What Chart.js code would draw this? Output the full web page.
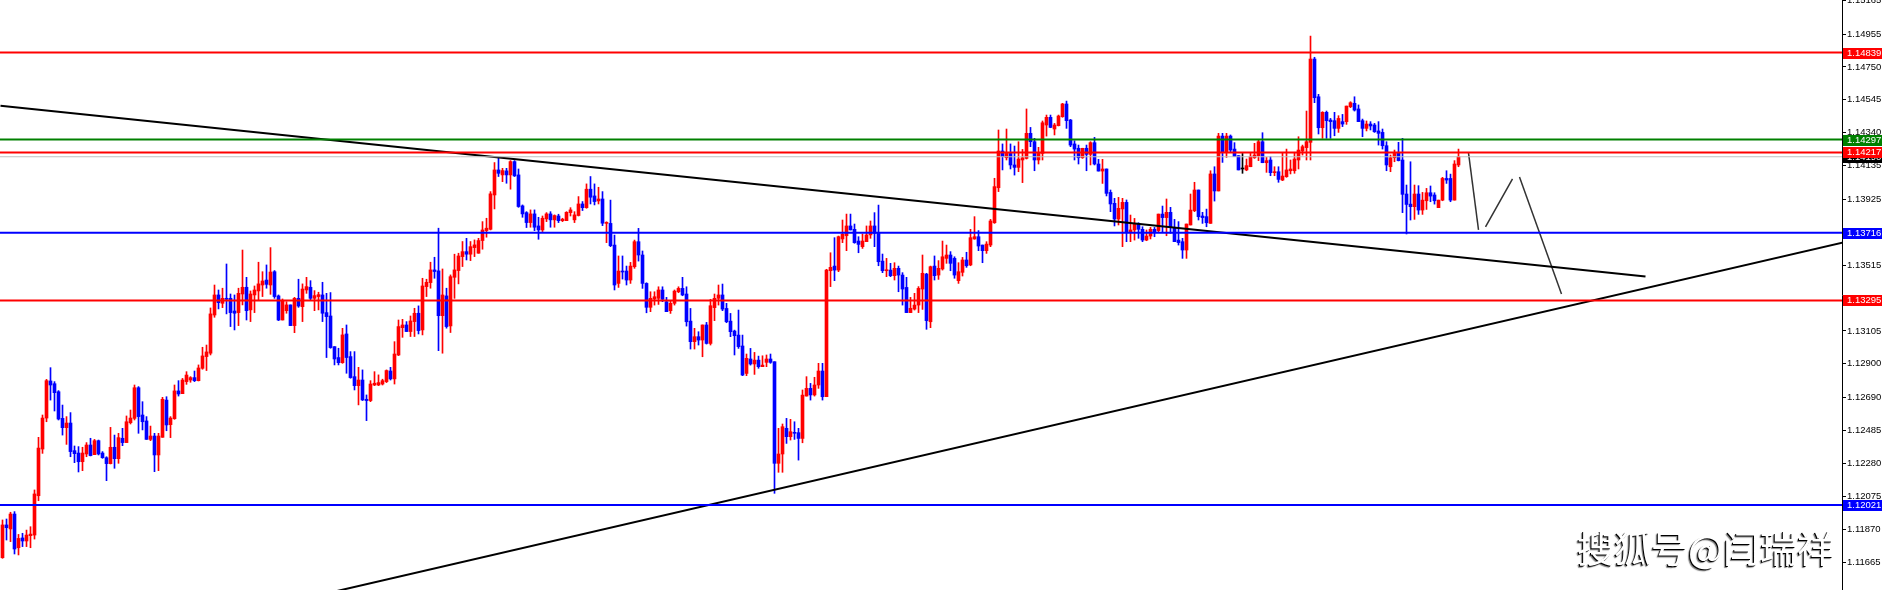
<!DOCTYPE html>
<html>
<head>
<meta charset="utf-8">
<script src="https://cdn.jsdelivr.net/npm/chart.js@4.4.1/dist/chart.umd.min.js"></script>
<style>
  html, body { margin: 0; padding: 0; background: #fff; }
  #wrap { position: relative; width: 1883px; height: 590px; overflow: hidden; }
  #mark {
    position: absolute; left: 1577px; top: 526px;
    font-family: "Noto Sans CJK SC", sans-serif; font-size: 37px; line-height: 42px;
    color: #fff; text-shadow: -1px 1px 0 #000, -2px 2px 1px rgba(0,0,0,0.5);
    white-space: nowrap;
  }
</style>
</head>
<body>
<div id="wrap">
  <canvas id="myChart" width="1883" height="590"></canvas>
  <div id="mark">搜狐号@闫瑞祥</div>
</div>
<script>
// EURUSD style candles (one candle every 4px)
const opens = [
  1.11692,1.11896,1.11871,1.11964,1.11754,1.11815,1.11796,1.11829,1.11833,1.12078,
  1.12369,1.12562,1.12793,1.12776,1.12726,1.12560,1.12502,1.12531,1.12359,1.12344,
  1.12290,1.12338,1.12394,1.12334,1.12421,1.12344,1.12315,1.12278,1.12380,1.12309,
  1.12436,1.12409,1.12533,1.12560,1.12751,1.12581,1.12544,1.12429,1.12450,1.12332,
  1.12442,1.12674,1.12521,1.12558,1.12731,1.12714,1.12789,1.12799,1.12814,1.12795,
  1.12872,1.12945,1.12966,1.13204,1.13329,1.13277,1.13308,1.13308,1.13229,1.13219,
  1.13335,1.13377,1.13236,1.13329,1.13354,1.13391,1.13422,1.13391,1.13474,1.13323,
  1.13173,1.13231,1.13267,1.13138,1.13308,1.13256,1.13360,1.13377,1.13308,1.13319,
  1.13329,1.13219,1.13198,1.13007,1.12939,1.12907,1.13086,1.12945,1.12820,1.12764,
  1.12799,1.12679,1.12671,1.12768,1.12768,1.12774,1.12789,1.12855,1.12806,1.12955,
  1.13125,1.13142,1.13101,1.13163,1.13215,1.13111,1.13381,1.13406,1.13485,1.13479,
  1.13200,1.13323,1.13136,1.13439,1.13481,1.13568,1.13599,1.13583,1.13624,1.13589,
  1.13668,1.13730,1.13738,1.13952,1.14108,1.14077,1.14102,1.14077,1.14160,1.14077,
  1.13884,1.13842,1.13780,1.13834,1.13759,1.13734,1.13803,1.13834,1.13797,1.13821,
  1.13792,1.13792,1.13842,1.13797,1.13824,1.13896,1.13873,1.13988,1.13946,1.13915,
  1.13927,1.13775,1.13775,1.13640,1.13401,1.13478,1.13478,1.13422,1.13505,1.13661,
  1.13578,1.13401,1.13252,1.13304,1.13308,1.13360,1.13287,1.13231,1.13277,1.13349,
  1.13370,1.13335,1.13166,1.13038,1.13069,1.13048,1.13142,1.13027,1.13250,1.13308,
  1.13329,1.13245,1.13166,1.13104,1.13079,1.13011,1.12840,1.12930,1.12899,1.12923,
  1.12882,1.12909,1.12930,1.12913,1.12280,1.12338,1.12498,1.12446,1.12471,1.12471,
  1.12435,1.12699,1.12747,1.12706,1.12768,1.12855,1.12695,1.13480,1.13509,1.13484,
  1.13678,1.13698,1.13759,1.13738,1.13665,1.13630,1.13661,1.13703,1.13759,1.13717,
  1.13540,1.13480,1.13484,1.13449,1.13495,1.13453,1.13376,1.13219,1.13241,1.13266,
  1.13366,1.13459,1.13162,1.13509,1.13453,1.13491,1.13557,1.13578,1.13557,1.13418,
  1.13470,1.13547,1.13516,1.13678,1.13692,1.13640,1.13605,1.13640,1.13779,1.13997,
  1.14226,1.14184,1.14211,1.14139,1.14124,1.14170,1.14180,1.14336,1.14284,1.14170,
  1.14211,1.14388,1.14436,1.14363,1.14384,1.14440,1.14519,1.14419,1.14270,1.14243,
  1.14184,1.14243,1.14205,1.14278,1.14145,1.14101,1.14114,1.13968,1.13900,1.13802,
  1.13865,1.13906,1.13723,1.13734,1.13771,1.13738,1.13671,1.13696,1.13738,1.13730,
  1.13833,1.13811,1.13844,1.13750,1.13671,1.13661,1.13609,1.13765,1.13854,1.13983,
  1.13821,1.13817,1.13775,1.14083,1.13977,1.14319,1.14222,1.14319,1.14238,1.14197,
  1.14114,1.14108,1.14128,1.14184,1.14197,1.14284,1.14153,1.14170,1.14091,1.14097,
  1.14045,1.14066,1.14103,1.14103,1.14170,1.14226,1.14247,1.14280,1.14799,1.14564,
  1.14371,1.14467,1.14419,1.14415,1.14367,1.14409,1.14409,1.14502,1.14523,1.14488,
  1.14415,1.14367,1.14394,1.14388,1.14351,1.14342,1.14259,1.14128,1.14184,1.14218,
  1.14170,1.13958,1.13895,1.13879,1.13958,1.13858,1.13916,1.13966,1.13952,1.13873,
  1.13920,1.14055,1.14055,1.13920,1.14139
];
const highs = [
  1.11927,1.11933,1.11975,1.11979,1.11837,1.11844,1.11864,1.11885,1.12114,1.12442,
  1.12581,1.12803,1.12876,1.12789,1.12733,1.12643,1.12571,1.12596,1.12388,1.12384,
  1.12380,1.12409,1.12436,1.12429,1.12425,1.12353,1.12321,1.12504,1.12456,1.12467,
  1.12498,1.12575,1.12612,1.12768,1.12758,1.12664,1.12571,1.12512,1.12467,1.12467,
  1.12691,1.12695,1.12571,1.12768,1.12795,1.12809,1.12851,1.12820,1.12855,1.12893,
  1.13003,1.13017,1.13248,1.13391,1.13360,1.13371,1.13522,1.13335,1.13329,1.13371,
  1.13609,1.13439,1.13354,1.13385,1.13533,1.13474,1.13516,1.13624,1.13481,1.13329,
  1.13304,1.13287,1.13267,1.13314,1.13427,1.13398,1.13439,1.13418,1.13356,1.13346,
  1.13408,1.13339,1.13344,1.13007,1.12997,1.13121,1.13142,1.12976,1.12976,1.12878,
  1.12862,1.12706,1.12795,1.12851,1.12831,1.12804,1.12862,1.12878,1.13038,1.13173,
  1.13177,1.13163,1.13198,1.13246,1.13261,1.13433,1.13427,1.13533,1.13564,1.13745,
  1.13491,1.13371,1.13454,1.13583,1.13589,1.13662,1.13682,1.13662,1.13672,1.13682,
  1.13786,1.13807,1.13973,1.14154,1.14181,1.14118,1.14118,1.14166,1.14166,1.14114,
  1.13890,1.13848,1.13859,1.13859,1.13813,1.13821,1.13842,1.13848,1.13828,1.13832,
  1.13807,1.13848,1.13873,1.13848,1.13942,1.13911,1.14021,1.14067,1.14021,1.14000,
  1.13973,1.13785,1.13920,1.13702,1.13572,1.13572,1.13509,1.13532,1.13671,1.13744,
  1.13603,1.13405,1.13349,1.13349,1.13380,1.13380,1.13314,1.13293,1.13360,1.13380,
  1.13439,1.13380,1.13245,1.13121,1.13100,1.13142,1.13158,1.13302,1.13335,1.13391,
  1.13397,1.13277,1.13214,1.13110,1.13235,1.13079,1.12961,1.12996,1.12971,1.12948,
  1.12950,1.12955,1.12961,1.12913,1.12498,1.12525,1.12560,1.12554,1.12539,1.12498,
  1.12737,1.12820,1.12778,1.12816,1.12903,1.12903,1.13489,1.13592,1.13686,1.13696,
  1.13796,1.13833,1.13833,1.13771,1.13692,1.13709,1.13759,1.13790,1.13842,1.13889,
  1.13584,1.13557,1.13526,1.13530,1.13509,1.13468,1.13439,1.13314,1.13339,1.13381,
  1.13578,1.13464,1.13509,1.13572,1.13543,1.13665,1.13640,1.13599,1.13567,1.13530,
  1.13563,1.13595,1.13738,1.13817,1.13730,1.13640,1.13661,1.13800,1.14056,1.14357,
  1.14270,1.14363,1.14270,1.14257,1.14284,1.14236,1.14488,1.14373,1.14305,1.14249,
  1.14413,1.14450,1.14450,1.14398,1.14450,1.14523,1.14537,1.14423,1.14290,1.14263,
  1.14243,1.14263,1.14284,1.14311,1.14174,1.14174,1.14114,1.13983,1.13931,1.13937,
  1.13931,1.13921,1.13827,1.13806,1.13779,1.13754,1.13734,1.13750,1.13750,1.13833,
  1.13883,1.13927,1.13875,1.13800,1.13786,1.13682,1.13771,1.13958,1.14031,1.13983,
  1.13844,1.13864,1.14103,1.14128,1.14336,1.14336,1.14336,1.14326,1.14278,1.14197,
  1.14211,1.14176,1.14211,1.14274,1.14294,1.14340,1.14186,1.14191,1.14128,1.14128,
  1.14216,1.14238,1.14170,1.14218,1.14315,1.14263,1.14475,1.14942,1.14810,1.14579,
  1.14471,1.14475,1.14429,1.14467,1.14446,1.14454,1.14506,1.14533,1.14564,1.14513,
  1.14425,1.14413,1.14409,1.14398,1.14409,1.14363,1.14284,1.14201,1.14232,1.14280,
  1.14305,1.14014,1.14159,1.14014,1.14010,1.13968,1.13993,1.14008,1.13966,1.13920,
  1.14062,1.14103,1.14082,1.14166,1.14238
];
const lows = [
  1.11688,1.11802,1.11792,1.11715,1.11709,1.11761,1.11761,1.11754,1.11808,1.12047,
  1.12342,1.12539,1.12674,1.12606,1.12550,1.12456,1.12398,1.12321,1.12284,1.12226,
  1.12234,1.12321,1.12326,1.12334,1.12332,1.12311,1.12172,1.12276,1.12249,1.12280,
  1.12390,1.12409,1.12525,1.12550,1.12467,1.12488,1.12429,1.12421,1.12228,1.12234,
  1.12442,1.12483,1.12440,1.12554,1.12699,1.12714,1.12772,1.12785,1.12789,1.12793,
  1.12866,1.12858,1.12955,1.13190,1.13242,1.13250,1.13211,1.13132,1.13111,1.13138,
  1.13267,1.13173,1.13163,1.13219,1.13298,1.13319,1.13371,1.13333,1.13308,1.13169,
  1.13173,1.13215,1.13138,1.13094,1.13252,1.13163,1.13339,1.13294,1.13231,1.13236,
  1.13163,1.12939,1.12997,1.12893,1.12893,1.12903,1.12841,1.12810,1.12737,1.12644,
  1.12671,1.12546,1.12664,1.12764,1.12764,1.12768,1.12783,1.12799,1.12774,1.12951,
  1.13065,1.13101,1.13070,1.13070,1.13086,1.13080,1.13319,1.13371,1.13433,1.12982,
  1.12966,1.13122,1.13095,1.13308,1.13398,1.13506,1.13547,1.13543,1.13568,1.13589,
  1.13614,1.13689,1.13734,1.13865,1.14067,1.14035,1.14025,1.13988,1.14067,1.13875,
  1.13813,1.13749,1.13751,1.13730,1.13676,1.13724,1.13786,1.13751,1.13751,1.13780,
  1.13786,1.13792,1.13821,1.13780,1.13821,1.13855,1.13869,1.13896,1.13890,1.13896,
  1.13761,1.13655,1.13630,1.13360,1.13376,1.13428,1.13391,1.13401,1.13495,1.13540,
  1.13370,1.13218,1.13225,1.13266,1.13270,1.13287,1.13225,1.13214,1.13266,1.13343,
  1.13324,1.13135,1.12992,1.12992,1.13017,1.12944,1.13023,1.13017,1.13169,1.13266,
  1.13231,1.13156,1.13069,1.12955,1.12996,1.12826,1.12826,1.12892,1.12834,1.12872,
  1.12882,1.12882,1.12903,1.12093,1.12224,1.12224,1.12404,1.12425,1.12429,1.12300,
  1.12408,1.12699,1.12674,1.12699,1.12747,1.12674,1.12695,1.13381,1.13418,1.13474,
  1.13655,1.13605,1.13734,1.13651,1.13592,1.13619,1.13661,1.13682,1.13630,1.13511,
  1.13468,1.13443,1.13443,1.13422,1.13349,1.13266,1.13219,1.13219,1.13235,1.13219,
  1.13239,1.13115,1.13125,1.13422,1.13426,1.13484,1.13526,1.13480,1.13433,1.13401,
  1.13447,1.13501,1.13511,1.13676,1.13605,1.13530,1.13588,1.13630,1.13775,1.13973,
  1.14108,1.14170,1.14114,1.14076,1.14097,1.14029,1.14176,1.14253,1.14103,1.14145,
  1.14170,1.14319,1.14371,1.14326,1.14382,1.14436,1.14367,1.14253,1.14170,1.14145,
  1.14180,1.14103,1.14139,1.14139,1.14101,1.14024,1.13946,1.13848,1.13759,1.13765,
  1.13630,1.13661,1.13661,1.13671,1.13682,1.13661,1.13667,1.13678,1.13692,1.13723,
  1.13723,1.13698,1.13713,1.13661,1.13640,1.13557,1.13557,1.13765,1.13848,1.13796,
  1.13775,1.13754,1.13775,1.13914,1.13977,1.14155,1.14186,1.14218,1.14191,1.14108,
  1.14087,1.14103,1.14128,1.14180,1.14166,1.14153,1.14093,1.14072,1.14072,1.14031,
  1.14041,1.14062,1.14083,1.14087,1.14114,1.14201,1.14170,1.14170,1.14527,1.14332,
  1.14305,1.14305,1.14305,1.14321,1.14342,1.14378,1.14392,1.14496,1.14475,1.14409,
  1.14315,1.14351,1.14357,1.14342,1.14263,1.14238,1.14103,1.14097,1.14159,1.14164,
  1.13842,1.13709,1.13796,1.13800,1.13831,1.13831,1.13862,1.13910,1.13895,1.13873,
  1.13916,1.14024,1.13910,1.13920,1.14128
];
const closes = [
  1.11896,1.11879,1.11964,1.11746,1.11812,1.11796,1.11833,1.11839,1.12089,1.12375,
  1.12562,1.12795,1.12768,1.12720,1.12556,1.12502,1.12531,1.12353,1.12340,1.12290,
  1.12344,1.12394,1.12328,1.12421,1.12338,1.12315,1.12278,1.12380,1.12309,1.12440,
  1.12409,1.12539,1.12562,1.12751,1.12571,1.12539,1.12429,1.12450,1.12332,1.12450,
  1.12679,1.12519,1.12562,1.12731,1.12712,1.12799,1.12830,1.12814,1.12795,1.12874,
  1.12949,1.12974,1.13211,1.13329,1.13281,1.13308,1.13302,1.13219,1.13215,1.13339,
  1.13377,1.13231,1.13335,1.13360,1.13398,1.13416,1.13395,1.13472,1.13319,1.13173,
  1.13294,1.13267,1.13138,1.13308,1.13260,1.13366,1.13381,1.13308,1.13325,1.13331,
  1.13215,1.13194,1.13001,1.12930,1.12907,1.13080,1.12939,1.12814,1.12764,1.12799,
  1.12675,1.12671,1.12774,1.12779,1.12783,1.12795,1.12858,1.12806,1.12961,1.13132,
  1.13142,1.13101,1.13167,1.13215,1.13107,1.13385,1.13408,1.13485,1.13475,1.13200,
  1.13329,1.13132,1.13443,1.13485,1.13572,1.13599,1.13583,1.13630,1.13641,1.13668,
  1.13734,1.13745,1.13959,1.14108,1.14087,1.14104,1.14077,1.14160,1.14071,1.13880,
  1.13834,1.13780,1.13834,1.13751,1.13734,1.13807,1.13834,1.13797,1.13824,1.13792,
  1.13801,1.13844,1.13859,1.13828,1.13896,1.13873,1.13988,1.13938,1.13911,1.13927,
  1.13776,1.13781,1.13636,1.13391,1.13478,1.13472,1.13422,1.13509,1.13661,1.13578,
  1.13401,1.13252,1.13308,1.13318,1.13360,1.13302,1.13225,1.13277,1.13353,1.13370,
  1.13329,1.13162,1.13038,1.13069,1.13048,1.13142,1.13027,1.13262,1.13308,1.13329,
  1.13241,1.13162,1.13100,1.13075,1.13007,1.12830,1.12934,1.12899,1.12923,1.12882,
  1.12892,1.12930,1.12909,1.12280,1.12338,1.12508,1.12446,1.12477,1.12467,1.12435,
  1.12705,1.12747,1.12706,1.12768,1.12855,1.12695,1.13484,1.13501,1.13484,1.13692,
  1.13707,1.13759,1.13734,1.13655,1.13644,1.13665,1.13703,1.13759,1.13713,1.13536,
  1.13480,1.13484,1.13449,1.13495,1.13453,1.13366,1.13219,1.13246,1.13266,1.13370,
  1.13464,1.13169,1.13505,1.13449,1.13495,1.13567,1.13578,1.13526,1.13453,1.13474,
  1.13547,1.13511,1.13686,1.13692,1.13634,1.13605,1.13646,1.13790,1.14004,1.14226,
  1.14191,1.14211,1.14139,1.14124,1.14176,1.14184,1.14336,1.14284,1.14170,1.14211,
  1.14402,1.14436,1.14373,1.14388,1.14444,1.14519,1.14415,1.14263,1.14238,1.14184,
  1.14243,1.14205,1.14278,1.14145,1.14101,1.14114,1.13962,1.13896,1.13802,1.13869,
  1.13906,1.13723,1.13734,1.13771,1.13738,1.13671,1.13696,1.13738,1.13723,1.13833,
  1.13811,1.13844,1.13750,1.13661,1.13655,1.13609,1.13771,1.13858,1.13983,1.13817,
  1.13811,1.13779,1.14083,1.13977,1.14319,1.14222,1.14319,1.14232,1.14191,1.14108,
  1.14114,1.14135,1.14191,1.14201,1.14284,1.14153,1.14166,1.14091,1.14097,1.14049,
  1.14070,1.14108,1.14114,1.14176,1.14232,1.14253,1.14284,1.14799,1.14558,1.14371,
  1.14467,1.14415,1.14409,1.14367,1.14429,1.14394,1.14506,1.14527,1.14481,1.14409,
  1.14367,1.14394,1.14382,1.14346,1.14336,1.14259,1.14139,1.14184,1.14211,1.14166,
  1.13956,1.13893,1.13879,1.13958,1.13858,1.13920,1.13966,1.13945,1.13916,1.13920,
  1.14055,1.14045,1.13920,1.14145,1.14190
];

// price axis labels
const tickValues = [1.15165, 1.14955, 1.14750, 1.14545, 1.14340, 1.14135, 1.13925, 1.13720, 1.13515,
  1.13310, 1.13105, 1.12900, 1.12690, 1.12485, 1.12280, 1.12075, 1.11870, 1.11665];

// horizontal levels and their price tags
const levelValues = [1.14839, 1.14297, 1.14217, 1.13716, 1.13295, 1.12021];
const levelColors = ['#ff0000', '#008000', '#ff0000', '#0000ff', '#ff0000', '#0000ff'];
const bidPrice = 1.14190;

// trend lines [barIndex, price]
const fallingLine = [[-0.5, 1.14508], [410.75, 1.13444]];
const risingLine = [[82, 1.11475], [460, 1.13655]];
// projected path
const pathA = [[366.5, 1.14214], [369, 1.13734]];
const pathB = [[370.75, 1.13753], [377.5, 1.14052]];
const pathC = [[379.25, 1.14064], [389.75, 1.13335]];

const xMin = -0.625, xMax = 459.875;
const yMin = 1.114906, yMax = 1.151669;

const idx = opens.map((o, i) => i);
const candleColors = idx.map(i => closes[i] > opens[i] ? '#ff0000' : (closes[i] < opens[i] ? '#0000ff' : '#000000'));

const toPts = arr => arr.map(p => ({ x: p[0], y: p[1] }));
const lineSet = (pts, color, width) => ({
  type: 'line', data: toPts(pts), borderColor: color, borderWidth: width,
  pointRadius: 0, fill: false, tension: 0, order: 0
});

const datasets = [];
levelValues.forEach((v, k) => datasets.push(lineSet([[xMin, v], [xMax, v]], levelColors[k], 2)));
datasets.push(lineSet([[xMin, bidPrice], [xMax, bidPrice]], '#c0c0c0', 1));
datasets.push(lineSet(fallingLine, '#000000', 2));
datasets.push(lineSet(risingLine, '#000000', 2));
datasets.push(lineSet(pathA, '#333333', 1.5));
datasets.push(lineSet(pathB, '#333333', 1.5));
datasets.push(lineSet(pathC, '#333333', 1.5));
datasets.push({
  type: 'bar', label: 'body',
  data: idx.map(i => ({ x: i, y: [Math.min(opens[i], closes[i]), Math.max(opens[i], closes[i])] })),
  backgroundColor: candleColors, barThickness: 3, minBarLength: 1, grouped: false, borderWidth: 0, order: 1
});
datasets.push({
  type: 'bar', label: 'wick',
  data: idx.map(i => ({ x: i, y: [lows[i], highs[i]] })),
  backgroundColor: candleColors, barThickness: 1, grouped: false, borderWidth: 0, order: 2
});

const priceTags = {
  id: 'priceTags',
  afterDraw(chart) {
    const ctx = chart.ctx, y = chart.scales.y;
    const tags = [{ v: bidPrice, c: '#000000' }].concat(levelValues.map((v, k) => ({ v: v, c: levelColors[k] })));
    ctx.save();
    ctx.font = '9.5px "Liberation Sans"';
    ctx.textBaseline = 'middle';
    tags.forEach(t => {
      const py = y.getPixelForValue(t.v);
      ctx.fillStyle = t.c;
      ctx.fillRect(1843, Math.round(py) - 5, 39, 11);
      ctx.fillStyle = '#ffffff';
      ctx.fillText(t.v.toFixed(5), 1847, Math.round(py) + 0.5);
    });
    ctx.restore();
  }
};

new Chart(document.getElementById('myChart'), {
  type: 'bar',
  data: { datasets: datasets },
  options: {
    responsive: false,
    animation: false,
    devicePixelRatio: 1,
    layout: { padding: 0 },
    plugins: { legend: { display: false }, tooltip: { enabled: false } },
    scales: {
      x: { type: 'linear', min: xMin, max: xMax, offset: false, display: false },
      y: {
        position: 'right', min: yMin, max: yMax,
        afterBuildTicks: s => { s.ticks = tickValues.map(v => ({ value: v })); },
        afterFit: s => { s.width = 41; s.paddingTop = 0; s.paddingBottom = 0; },
        ticks: {
          autoSkip: false, padding: 1, color: '#000000',
          font: { family: 'Liberation Sans', size: 9.5 },
          callback: v => Number(v).toFixed(5)
        },
        grid: { drawOnChartArea: false, tickLength: 4, color: '#000000' },
        border: { color: '#000000', width: 1 }
      }
    }
  },
  plugins: [priceTags]
});
</script>
</body>
</html>
